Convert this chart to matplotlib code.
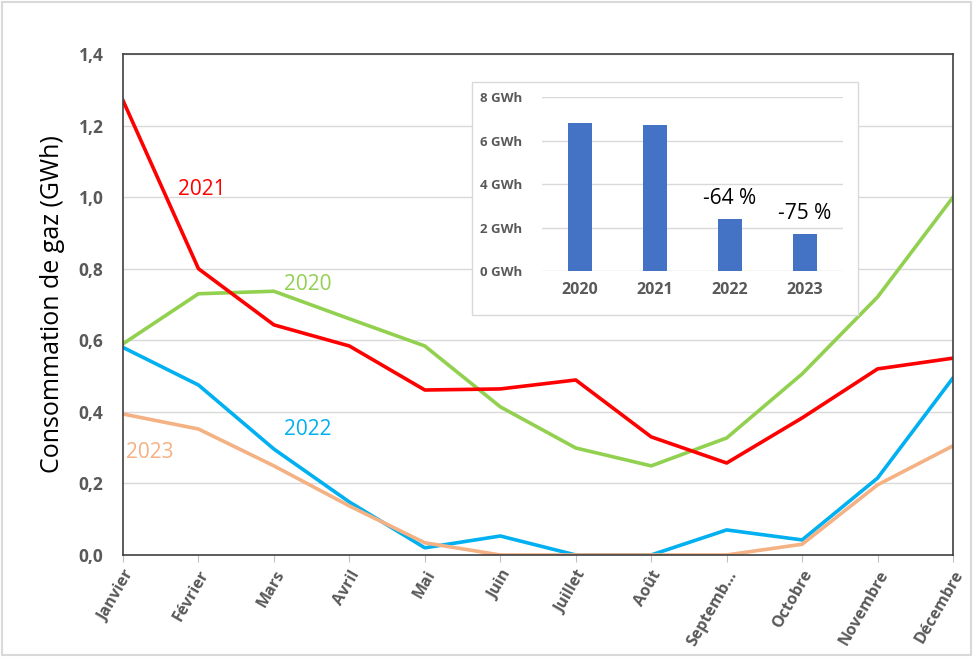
import numpy as np
import matplotlib
matplotlib.use("Agg")
import matplotlib.pyplot as plt
from matplotlib.patches import Rectangle

plt.rcParams['font.family'] = ['Open Sans', 'DejaVu Sans']

mois = ["Janvier", "Février", "Mars", "Avril", "Mai", "Juin", "Juillet",
        "Août", "Septemb…", "Octobre", "Novembre", "Décembre"]
conso_2020 = [0.59, 0.73, 0.737, 0.66, 0.584, 0.414, 0.299, 0.249, 0.327, 0.506, 0.721, 1.0]
conso_2021 = [1.27, 0.80, 0.643, 0.584, 0.461, 0.464, 0.489, 0.33, 0.257, 0.383, 0.52, 0.55]
conso_2022 = [0.58, 0.475, 0.296, 0.148, 0.02, 0.053, 0.0, 0.0, 0.07, 0.042, 0.215, 0.495]
conso_2023 = [0.394, 0.352, 0.249, 0.137, 0.034, 0.0, 0.0, 0.0, 0.0, 0.03, 0.196, 0.305]

annees = ["2020", "2021", "2022", "2023"]
totaux = [6.79, 6.70, 2.38, 1.69]
baisses = ["", "", "-64 %", "-75 %"]

fig = plt.figure(figsize=(9.73, 6.57), dpi=100)
# cadre gris clair autour de la figure
fig.patches.append(Rectangle((0.002, 0.003), 0.996, 0.994, transform=fig.transFigure,
                             fill=False, edgecolor="#d9d9d9", linewidth=1.5))

ax = fig.add_axes([0.1264, 0.1553, 0.8531, 0.7625])
x = np.arange(len(mois))
ax.plot(x, conso_2020, color="#92D050", lw=2.6)
ax.plot(x, conso_2021, color="#FF0000", lw=2.6)
ax.plot(x, conso_2022, color="#00B0F0", lw=2.6)
ax.plot(x, conso_2023, color="#F4B183", lw=2.6)

ax.set_xlim(0, 11)
ax.set_ylim(0, 1.4)
ax.set_yticks(np.arange(0, 1.41, 0.2))
ax.set_yticklabels([("%.1f" % v).replace(".", ",") for v in np.arange(0, 1.41, 0.2)],
                   fontsize=12.5, fontweight="bold", color="#595959")
ax.set_xticks(x)
ax.set_xticklabels(mois, rotation=60, ha="right", rotation_mode="anchor",
                   fontsize=11.5, fontweight="bold", color="#595959")
ax.tick_params(axis="y", length=0, pad=14)
ax.tick_params(axis="x", length=5, color="#bfbfbf", pad=4)
ax.grid(axis="y", color="#d9d9d9", lw=1)
ax.set_axisbelow(True)
for s in ax.spines.values():
    s.set_color("#404040")
    s.set_linewidth(1.2)
ax.set_ylabel("Consommation de gaz (GWh)", fontsize=18, labelpad=10)

ax.text(1.05, 1.02, "2021", color="#FF0000", fontsize=15, ha="center", va="center")
ax.text(2.45, 0.755, "2020", color="#92D050", fontsize=15, ha="center", va="center")
ax.text(2.45, 0.35, "2022", color="#00B0F0", fontsize=15, ha="center", va="center")
ax.text(0.35, 0.287, "2023", color="#F4B183", fontsize=15, ha="center", va="center")

# encart : consommation annuelle
fig.patches.append(Rectangle((0.485, 0.5205), 0.3967, 0.3546, transform=fig.transFigure,
                             facecolor="white", edgecolor="#d9d9d9", linewidth=1, zorder=2))
ins = fig.add_axes([0.557, 0.5875, 0.309, 0.2648], zorder=3)
ins.patch.set_alpha(0)
xb = np.arange(len(annees))
ins.bar(xb, totaux, width=0.32, color="#4472C4")
for xi, v, t in zip(xb, totaux, baisses):
    if t:
        ins.text(xi, v + 0.45, t, ha="center", va="bottom", fontsize=15)
ins.set_xlim(-0.5, 3.5)
ins.set_ylim(0, 8)
ins.set_yticks([0, 2, 4, 6, 8])
ins.set_yticklabels(["%d GWh" % v for v in [0, 2, 4, 6, 8]],
                    fontsize=9.5, fontweight="bold", color="#595959")
ins.set_xticks(xb)
ins.set_xticklabels(annees, fontsize=11.5, fontweight="bold", color="#595959")
ins.tick_params(length=0)
ins.tick_params(axis="y", pad=14)
ins.tick_params(axis="x", pad=8)
ins.grid(axis="y", color="#d9d9d9", lw=1)
ins.set_axisbelow(True)
for s in ins.spines.values():
    s.set_visible(False)

fig.savefig("out.png", dpi=100)
